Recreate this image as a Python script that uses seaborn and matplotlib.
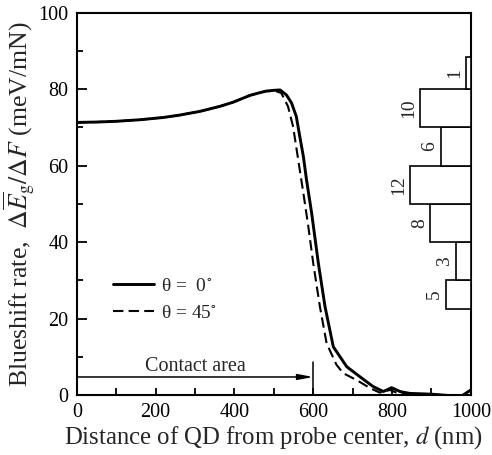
import matplotlib
matplotlib.use("Agg")
import matplotlib.pyplot as plt
from matplotlib.ticker import MultipleLocator
import numpy as np
import pandas as pd
import seaborn as sns

# Blueshift rate vs. QD distance from the probe centre
d_0 = [0, 50, 100, 160, 220, 260, 313, 363, 397, 440, 465, 481, 500, 516,
       532, 545, 557, 566, 575, 583, 596, 613, 630, 651, 685, 718, 752, 778,
       799, 820, 845, 900, 950, 975, 1000]
rate_0 = [71.3, 71.4, 71.6, 72.0, 72.6, 73.2, 74.2, 75.5, 76.6, 78.4, 79.1,
          79.5, 79.7, 79.8, 78.5, 76.4, 72.9, 67.6, 62.4, 56.3, 47.6, 34.5,
          23.1, 12.6, 7.4, 4.8, 2.2, 0.9, 1.9, 0.9, 0.4, 0.2, -0.2, -0.4, 1.3]

d_45 = [0, 50, 100, 160, 220, 260, 313, 363, 397, 440, 465, 481, 505, 519,
        536, 549, 562, 575, 587, 600, 617, 634, 659, 676, 710, 744, 769, 795,
        816, 845, 900, 950, 975, 1000]
rate_45 = [71.3, 71.4, 71.6, 72.0, 72.6, 73.2, 74.2, 75.5, 76.6, 78.4, 79.1,
           79.5, 79.5, 79.0, 75.5, 70.2, 61.5, 52.8, 44.5, 34.5, 23.1, 13.5,
           7.9, 5.7, 3.9, 1.8, 0.6, 1.3, 0.4, 0.2, 0.1, -0.2, -0.4, 1.3]

# Histogram of measured blueshift rates (counts per bin)
bin_edges = [22.5, 30, 40, 50, 60, 70, 80, 88.5]
bin_counts = [5, 3, 8, 12, 6, 10, 1]

contact_radius = 600
labels = ["θ =  0$^{\\circ}$", "θ = 45$^{\\circ}$"]

df0 = pd.DataFrame({"d": d_0, "rate": rate_0})
df45 = pd.DataFrame({"d": d_45, "rate": rate_45})

sns.set_style("ticks")
plt.rcParams["font.family"] = ["Liberation Serif", "DejaVu Serif"]
plt.rcParams["mathtext.fontset"] = "stix"

fig = plt.figure(figsize=(4.92, 4.55), dpi=100)
ax = fig.add_axes([0.156, 0.132, 0.801, 0.840])

sns.lineplot(data=df0, x="d", y="rate", ax=ax, color="k", lw=2.1,
             estimator=None, sort=False, label=labels[0])
sns.lineplot(data=df45, x="d", y="rate", ax=ax, color="k", lw=1.5,
             linestyle=(0, (5, 2.5)), estimator=None, sort=False,
             label=labels[1])

ax.set_xlim(0, 1000)
ax.set_ylim(0, 100)
ax.xaxis.set_major_locator(MultipleLocator(200))
ax.xaxis.set_minor_locator(MultipleLocator(100))
ax.yaxis.set_major_locator(MultipleLocator(20))
ax.yaxis.set_minor_locator(MultipleLocator(10))
ax.tick_params(which="both", direction="in", top=False, right=False,
               width=1.3, labelsize=14.5, color="k", labelcolor="k")
ax.tick_params(axis="y", which="major", length=7, pad=6)
ax.tick_params(axis="y", which="minor", length=4.5)
ax.tick_params(axis="x", which="major", length=5, pad=6)
ax.tick_params(axis="x", which="minor", length=5)
for s in ax.spines.values():
    s.set_linewidth(1.5)
    s.set_color("k")

ax.set_xlabel("Distance of QD from probe center, $d$ (nm)", fontsize=17.8,
              labelpad=1)
ax.set_ylabel("Blueshift rate,  $\\Delta\\overline{E}_{\\mathrm{g}}/\\Delta F$ (meV/mN)",
              fontsize=18.5, labelpad=1)

# Contact area marker
ax.annotate("", xy=(contact_radius, 4.7), xytext=(0, 4.7),
            arrowprops=dict(arrowstyle="-|>,head_length=0.9,head_width=0.17",
                            color="k", lw=1.1, shrinkA=0, shrinkB=0))
ax.plot([contact_radius, contact_radius], [0, 8.7], color="k", lw=1.1)
ax.text(contact_radius / 2, 4.9, "Contact area", fontsize=14.5,
        ha="center", va="bottom")

ax.legend(loc="upper left", bbox_to_anchor=(0.092, 0.307), frameon=False,
          fontsize=14, handlelength=2.1, handletextpad=0.35,
          labelspacing=0.45, borderpad=0, borderaxespad=0)

# Histogram along the right axis
ax2 = ax.twiny()
ax2.set_xlim(78, 0)
ax2.set_ylim(0, 100)
centers = [(a + b) / 2 for a, b in zip(bin_edges[:-1], bin_edges[1:])]
heights = np.diff(bin_edges)
ax2.barh(centers, bin_counts, height=heights, left=0, facecolor="white",
         edgecolor="k", lw=1.2)
for c, n in zip(centers, bin_counts):
    ax2.annotate(str(n), xy=(n, c), xytext=(-8, 0), textcoords="offset points",
                 rotation=90, ha="center", va="center", fontsize=14)
ax2.set_xticks([])
for s in ax2.spines.values():
    s.set_visible(False)

fig.savefig("out.png", dpi=100)
